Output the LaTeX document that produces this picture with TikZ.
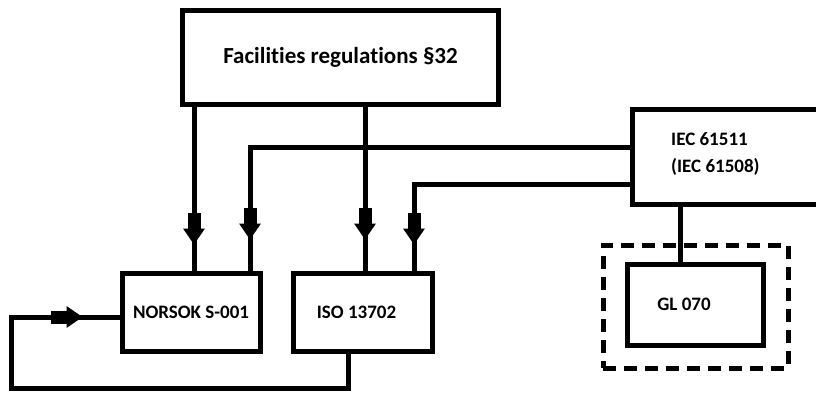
\documentclass[tikz,border=0pt]{standalone}
\usepackage{fontspec}
\setmainfont{Carlito}[Ligatures={NoCommon,NoRequired,NoContextual}]
\usetikzlibrary{decorations.markings}
\tikzset{
  box/.style={draw, line width=5pt, rectangle, inner sep=0pt, font=\bfseries\fontsize{19}{24}\selectfont},
  conn/.style={line width=5pt},
  midarrow/.style={postaction=decorate, decoration={markings, mark=at position #1 with {
      \fill (-32,-6.5) rectangle (-14,6.5);
      \fill (-16,-11) -- (0,0) -- (-16,11) -- cycle;}}},
  dashbox/.style={draw, line width=5pt, dash pattern=on 13pt off 8pt, rectangle, inner sep=0pt}
}
\begin{document}
\begin{tikzpicture}[x=1pt, y=-1pt]
\clip (0,0) rectangle (816,393);
\useasboundingbox (0,0) rectangle (816,393);
\node[box, minimum width=316pt, minimum height=94pt, font=\bfseries\fontsize{23}{28}\selectfont] (top) at (340.5,57.5) {\raisebox{2pt}{Facilities regulations §32}};
\node[box, minimum width=138pt, minimum height=78pt] (norsok) at (191,312) {NORSOK S-001};
\node[box, minimum width=139pt, minimum height=78pt] (iso) at (362.5,312) {\hspace{-12pt}ISO 13702};
\node[box, minimum width=220pt, minimum height=94pt] (iec) at (742,157) {};
\node[font=\bfseries\fontsize{19}{27}\selectfont, align=left, anchor=west, inner sep=0pt] (iectext) at (671,153.5) {IEC 61511\\(IEC 61508)};
\node[dashbox, minimum width=185pt, minimum height=123pt] (dash) at (695.5,306.5) {};
\node[box, minimum width=136pt, minimum height=81pt] (gl) at (695,304.5) {\hspace{-22pt}GL 070};
% connectors
\draw[conn, midarrow=-26pt] (top.south -| 194,0) -- (norsok.north -| 194,0);
\draw[conn, midarrow=-31pt] (top.south -| 365,0) -- (iso.north -| 365,0);
\draw[conn, midarrow=-31pt] (iec.west |- 0,147) -| (norsok.north -| 250,0);
\draw[conn, midarrow=-26pt] (iec.west |- 0,184) -| (iso.north -| 414,0);
\draw[conn] (iec.south -| 680,0) -- (gl.north -| 680,0);
\draw[conn, midarrow=-37pt] (iso.south -| 348,0) -- (348,388) -| (11,317) -- (norsok.west |- 0,317);
\end{tikzpicture}
\end{document}
